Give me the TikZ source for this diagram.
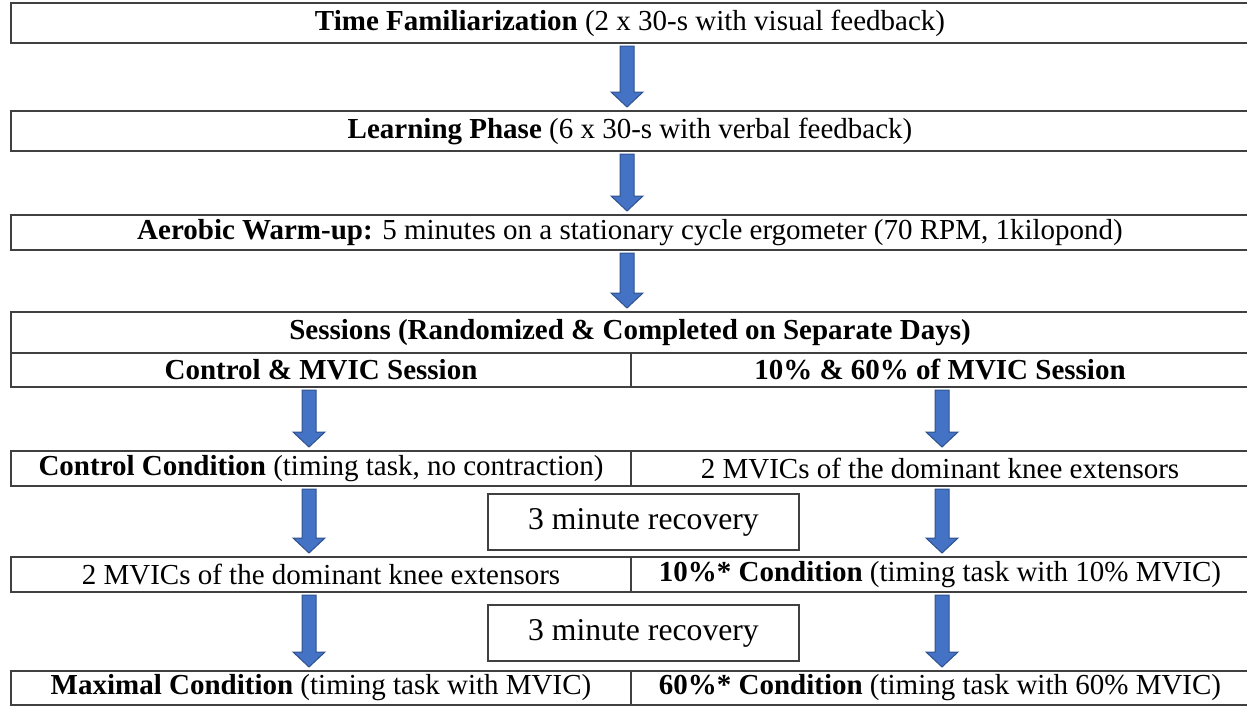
\documentclass[tikz,border=0pt]{standalone}
\usepackage{fontspec}
\setmainfont{Liberation Serif}
\usetikzlibrary{calc}

\definecolor{arrowfill}{HTML}{4472C4}
\definecolor{arrowline}{HTML}{2F528F}

\tikzset{
  cellbox/.style={draw=black!75, line width=1.2pt, inner sep=0pt, outer sep=0pt,
    font=\fontsize{29}{31}\selectfont, anchor=center},
  recbox/.style={cellbox, font=\fontsize{31.7}{33}\selectfont},
  blockarrow/.style={fill=arrowfill, draw=arrowline, line width=1pt,
    to path={let \p1=(\tikztostart), \p2=(\tikztotarget) in
      (\x1-7pt,\y1-3pt) -- (\x1+7pt,\y1-3pt) -- (\x1+7pt,\y2+19pt)
      -- (\x1+16pt,\y2+19pt) -- (\x1,\y2+4pt) -- (\x1-16pt,\y2+19pt)
      -- (\x1-7pt,\y2+19pt) -- cycle}}
}

% box from corner (x1,y1) to corner (x2,y2), in pixel-like units
\newcommand{\cellat}[7][cellbox]{%
  \node[#1, minimum width={(#5-#3)*1pt}, minimum height={(#6-#4)*1pt}]
    (#2) at ({(#3+#5)/2},{(#4+#6)/2}) {#7};}

\begin{document}
\begin{tikzpicture}[x=1pt, y=-1pt]
\useasboundingbox (0,0) rectangle (1247,707);

% columns of the arrows
\coordinate (colM) at (627,0);
\coordinate (colL) at (309,0);
\coordinate (colR) at (942,0);

% common phases
\cellat{fam}{11}{3}{1249}{43}{\textbf{Time Familiarization} (2 x 30-s with visual feedback)}
\cellat{learn}{11}{111}{1249}{151}{\textbf{Learning Phase} (6 x 30-s with verbal feedback)}
\cellat{warm}{11}{215}{1249}{250}{\textbf{Aerobic Warm-up:} 5 minutes on a stationary cycle ergometer (70 RPM, 1kilopond)}

% sessions table
\cellat{sess}{11}{312}{1249}{353}{\textbf{Sessions (Randomized \& Completed on Separate Days)}}
\cellat{sessL}{11}{353}{631}{387}{\textbf{Control \& MVIC Session}}
\cellat{sessR}{631}{353}{1249}{387}{\textbf{10\% \& 60\% of MVIC Session}}

% first conditions
\cellat{ctrl}{11}{451}{631}{486}{\textbf{Control Condition} (timing task, no contraction)}
\cellat{mvicR}{631}{451}{1249}{486}{2 MVICs of the dominant knee extensors}

\cellat[recbox]{rec1}{488}{494}{799}{550}{3 minute recovery}

% second conditions
\cellat{mvicL}{11}{557}{631}{592}{2 MVICs of the dominant knee extensors}
\cellat{ten}{631}{557}{1249}{592}{\textbf{10\%* Condition} (timing task with 10\% MVIC)}

\cellat[recbox]{rec2}{488}{605}{799}{661}{3 minute recovery}

% final conditions
\cellat{maxc}{11}{671}{631}{705}{\textbf{Maximal Condition} (timing task with MVIC)}
\cellat{sixty}{631}{671}{1249}{705}{\textbf{60\%* Condition} (timing task with 60\% MVIC)}

% block arrows
\draw[blockarrow] (fam.south -| colM) to (learn.north -| colM);
\draw[blockarrow] (learn.south -| colM) to (warm.north -| colM);
\draw[blockarrow] (warm.south -| colM) to (sess.north -| colM);

\draw[blockarrow] (sessL.south -| colL) to (ctrl.north -| colL);
\draw[blockarrow] (ctrl.south -| colL) to (mvicL.north -| colL);
\draw[blockarrow] (mvicL.south -| colL) to (maxc.north -| colL);

\draw[blockarrow] (sessR.south -| colR) to (mvicR.north -| colR);
\draw[blockarrow] (mvicR.south -| colR) to (ten.north -| colR);
\draw[blockarrow] (ten.south -| colR) to (sixty.north -| colR);
\end{tikzpicture}
\end{document}
